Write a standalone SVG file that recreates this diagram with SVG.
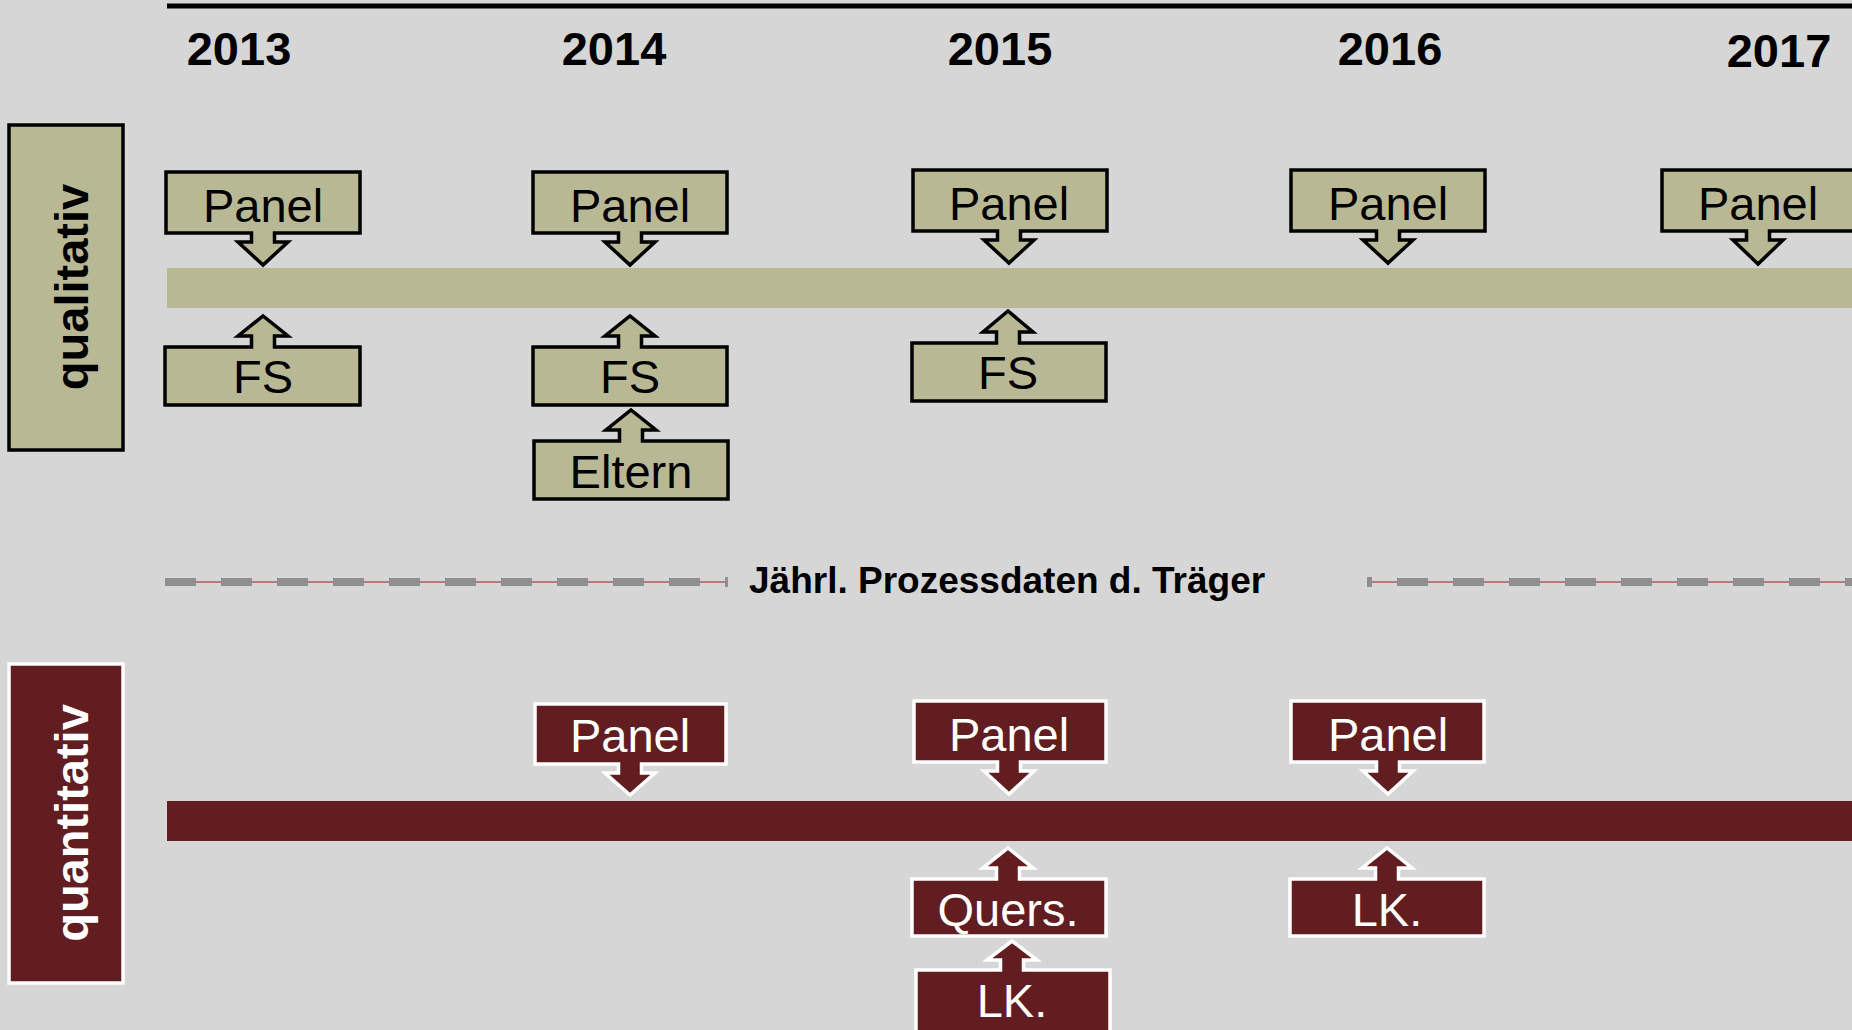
<svg xmlns="http://www.w3.org/2000/svg" width="1852" height="1030" viewBox="0 0 1852 1030">
<style>
.bg{fill:#d6d6d6}
.ql{fill:#b8b894;stroke:#000;stroke-width:3.5;stroke-linejoin:miter}
.qn{fill:#611d20;stroke:#fff;stroke-width:3.5;stroke-linejoin:miter}
.t{font-family:"Liberation Sans",Arial,sans-serif;font-size:47px;text-anchor:middle}
.tk{fill:#000}
.tw{fill:#fff}
.yr{font-family:"Liberation Sans",Arial,sans-serif;font-size:47px;font-weight:bold;text-anchor:middle;fill:#000}
.lbl{font-family:"Liberation Sans",Arial,sans-serif;font-size:47px;font-weight:bold;text-anchor:middle}
.thin{stroke:#b05a5a;stroke-width:1.5;fill:none}
.dash{stroke:#8f8f8f;stroke-width:8;stroke-dasharray:31 25;fill:none}
.tick{fill:#8f8f8f}
</style>
<rect class="bg" x="0" y="0" width="1852" height="1030"/>
<line x1="167" y1="6" x2="1852" y2="6" stroke="#000" stroke-width="5"/>
<g id="years">
<text class="yr" x="239" y="65">2013</text>
<text class="yr" x="614" y="65">2014</text>
<text class="yr" x="1000" y="65">2015</text>
<text class="yr" x="1390" y="65">2016</text>
<text class="yr" x="1779" y="67">2017</text>
</g>
<g id="label-qualitativ">
<rect class="ql" x="9" y="125" width="114" height="325"/>
<text class="lbl tk" transform="translate(88,287) rotate(-90)">qualitativ</text>
</g>
<g id="label-quantitativ">
<rect class="qn" x="9" y="664" width="114" height="319"/>
<text class="lbl tw" transform="translate(88,823) rotate(-90)">quantitativ</text>
</g>
<g id="band-qual"><rect x="167" y="268" width="1685" height="40" fill="#b8b894"/></g>
<g id="band-quant"><rect x="167" y="801" width="1685" height="40" fill="#611d20"/></g>
<g id="connectors">
<line class="thin" x1="165" y1="582" x2="727" y2="582"/>
<line class="dash" x1="165" y1="582" x2="700" y2="582"/>
<rect class="tick" x="725" y="577" width="3" height="10"/>
<line class="thin" x1="1368" y1="582" x2="1852" y2="582"/>
<line class="dash" x1="1397" y1="582" x2="1852" y2="582"/>
<rect class="tick" x="1367" y="577" width="5" height="10"/>
</g>
<g id="prozessdaten">
<text x="749" y="593" font-family="Liberation Sans, Arial, sans-serif" font-size="37" font-weight="bold" fill="#000">Jährl. Prozessdaten d. Träger</text>
</g>
<g id="ql-panel-2013">
<path class="ql" d="M166 172H360V233H274.5V242H288L263 265L238 242H251.5V233H166Z"/>
<text class="t tk" x="263" y="222">Panel</text>
</g>
<g id="ql-panel-2014">
<path class="ql" d="M533 172H727V233H641.5V242H655L630 265L605 242H618.5V233H533Z"/>
<text class="t tk" x="630" y="222">Panel</text>
</g>
<g id="ql-panel-2015">
<path class="ql" d="M913 170H1107V231H1020.5V240H1034L1009 263L984 240H997.5V231H913Z"/>
<text class="t tk" x="1009" y="220">Panel</text>
</g>
<g id="ql-panel-2016">
<path class="ql" d="M1291 170H1485V231H1399.5V240H1413L1388 263L1363 240H1376.5V231H1291Z"/>
<text class="t tk" x="1388" y="220">Panel</text>
</g>
<g id="ql-panel-2017">
<path class="ql" d="M1662 170H1856V231H1769.5V240H1783L1758 264L1733 240H1746.5V231H1662Z"/>
<text class="t tk" x="1758" y="220">Panel</text>
</g>
<g id="ql-fs-2013">
<path class="ql" d="M165 347H251.5V336H238L263 316L288 336H274.5V347H360V405H165Z"/>
<text class="t tk" x="263" y="393">FS</text>
</g>
<g id="ql-fs-2014">
<path class="ql" d="M533 347H618.5V336H605L630 316L655 336H641.5V347H727V405H533Z"/>
<text class="t tk" x="630" y="393">FS</text>
</g>
<g id="ql-fs-2015">
<path class="ql" d="M912 343H996.5V332H983L1008 311L1033 332H1019.5V343H1106V401H912Z"/>
<text class="t tk" x="1008" y="389">FS</text>
</g>
<g id="ql-eltern-2014">
<path class="ql" d="M534 441H619.5V430H606L631 410L656 430H642.5V441H728V499H534Z"/>
<text class="t tk" x="631" y="488">Eltern</text>
</g>
<g id="qn-panel-2014">
<path class="qn" d="M535 704H726V764H641.5V773H655L630 795L605 773H618.5V764H535Z"/>
<text class="t tw" x="630" y="752">Panel</text>
</g>
<g id="qn-panel-2015">
<path class="qn" d="M914 701H1106V762H1020.5V771H1034L1009 794L984 771H997.5V762H914Z"/>
<text class="t tw" x="1009" y="751">Panel</text>
</g>
<g id="qn-panel-2016">
<path class="qn" d="M1291 701H1484V762H1399.5V771H1413L1388 794L1363 771H1376.5V762H1291Z"/>
<text class="t tw" x="1388" y="751">Panel</text>
</g>
<g id="qn-quers-2015">
<path class="qn" d="M912 879H996.5V868H983L1008 848L1033 868H1019.5V879H1106V936H912Z"/>
<text class="t tw" x="1008" y="926">Quers.</text>
</g>
<g id="qn-lk-2016">
<path class="qn" d="M1290 879H1375.5V868H1362L1387 848L1412 868H1398.5V879H1484V936H1290Z"/>
<text class="t tw" x="1387" y="926">LK.</text>
</g>
<g id="qn-lk-2015">
<path class="qn" d="M916 970H1000.5V960H987L1012 941L1037 960H1023.5V970H1110V1045H916Z"/>
<text class="t tw" x="1012" y="1017">LK.</text>
</g>
</svg>
